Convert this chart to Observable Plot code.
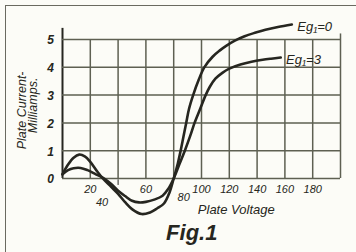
<!DOCTYPE html>
<html><head><meta charset="utf-8">
<script src="https://cdn.jsdelivr.net/npm/d3@7"></script>
<script src="https://cdn.jsdelivr.net/npm/@observablehq/plot@0.6"></script>
<style>
html,body{margin:0;padding:0;background:#fcfcf7;}
#wrap{position:relative;width:356px;height:252px;overflow:hidden;}
#wrap svg{display:block;background:transparent;}
#frame{position:absolute;left:5px;top:5px;right:-10px;bottom:-10px;border-left:1.5px solid #6a6a60;border-top:1.5px solid #6a6a60;pointer-events:none;}
</style></head><body><div id="wrap"><div id="frame"></div></div>
<script>
// Plate voltage (V) and plate current (mA) for the two grid bias curves
const voltsEg0 = [0, 4, 8, 12, 16, 20, 25, 29, 35, 40, 45, 50, 57, 63, 68, 73, 77, 80, 83, 85, 87, 89, 91, 94, 98, 102, 108, 113, 118, 124, 131, 139, 146, 155, 165];
const ampsEg0  = [0.15, 0.5, 0.75, 0.86, 0.8, 0.6, 0.25, 0.0, -0.3, -0.55, -0.85, -1.1, -1.28, -1.22, -1.08, -0.9, -0.5, 0.0, 0.55, 1.0, 1.5, 2.0, 2.5, 3.0, 3.55, 4.0, 4.38, 4.6, 4.78, 4.96, 5.12, 5.25, 5.35, 5.45, 5.54];
const voltsEg3 = [0, 4, 8, 13, 18, 24, 30, 35, 40, 45, 50, 55, 60, 66, 72, 76, 80, 84, 88, 92, 95, 99, 103, 106, 110, 115, 120, 128, 136, 144, 150, 157];
const ampsEg3  = [0.15, 0.3, 0.37, 0.38, 0.3, 0.15, 0.0, -0.2, -0.44, -0.63, -0.8, -0.86, -0.84, -0.76, -0.62, -0.38, 0.0, 0.5, 1.0, 1.55, 2.0, 2.5, 3.0, 3.3, 3.59, 3.8, 3.95, 4.1, 4.2, 4.27, 4.31, 4.35];
const seriesLabels = ["Eg\u2081=0", "Eg\u2081=3"];
const xGrid = [0, 20, 40, 60, 80, 100, 120, 140, 160, 180, 200];
const yGrid = [0, 1, 2, 3, 4, 5];
const xTickLabels = [20, 40, 60, 80, 100, 120, 140, 160, 180];
const yTickLabels = [0, 1, 2, 3, 4, 5];
const xTitle = "Plate Voltage";
const yTitle1 = "Plate Current-";
const yTitle2 = "Milliamps.";
const figLabel = "Fig.1";

const eg0 = voltsEg0.map((v, i) => ({v, a: ampsEg0[i]}));
const eg3 = voltsEg3.map((v, i) => ({v, a: ampsEg3[i]}));

const ink = "#262620";
const gridC = "#5e6052";
const font = "Liberation Sans, Arial, sans-serif";
const normalX = xTickLabels.filter(d => d !== 40 && d !== 80);

const chart = Plot.plot({
  width: 356, height: 252,
  marginTop: 0, marginRight: 0, marginBottom: 0, marginLeft: 0,
  x: {domain: [0, 200], range: [62, 340], axis: null},
  y: {domain: [0, 5], range: [178, 39], axis: null},
  style: {background: "transparent", fontFamily: font},
  marks: [
    Plot.ruleX(xGrid.filter(d => d > 0 && d < 200), {x: d => d, y1: 0, y2: 5, stroke: gridC, strokeWidth: 1.5}),
    Plot.ruleX([0], {x: d => d, y1: 0, y2: 5.4, stroke: ink, strokeWidth: 2}),
    Plot.ruleX([200], {x: d => d, y1: 0, y2: 5.2, stroke: gridC, strokeWidth: 1.5}),
    Plot.ruleY(yGrid, {y: d => d, x1: 0, x2: 200, stroke: gridC, strokeWidth: 1.5}),
    Plot.ruleX([40], {x: d => d, y1: -0.05, y2: -0.25, stroke: ink, strokeWidth: 1}),
    Plot.line(eg0, {x: "v", y: "a", curve: "catmull-rom", stroke: ink, strokeWidth: 2.6}),
    Plot.line(eg3, {x: "v", y: "a", curve: "catmull-rom", stroke: ink, strokeWidth: 2.6}),
    Plot.text([seriesLabels[0]], {x: 166, y: 5.47, text: d => d, textAnchor: "start", dx: 4, fontSize: 13, fontStyle: "italic", fill: ink}),
    Plot.text([seriesLabels[1]], {x: 158, y: 4.28, text: d => d, textAnchor: "start", dx: 4, fontSize: 13, fontStyle: "italic", fill: ink}),
    Plot.text(yTickLabels, {x: 0, y: d => d, text: d => String(d), dx: -12, dy: 1, textAnchor: "middle", fontSize: 12, fontStyle: "italic", fontWeight: "bold", fill: ink}),
    Plot.text(normalX, {x: d => d, y: 0, text: d => String(d), dy: 11, textAnchor: "middle", fontSize: 11, fontStyle: "italic", fill: ink}),
    Plot.text([40], {x: d => d, y: 0, text: d => String(d), dx: -16, dy: 24, textAnchor: "middle", fontSize: 11, fontStyle: "italic", fill: ink}),
    Plot.text([80], {x: d => d, y: 0, text: d => String(d), dx: 10, dy: 19, textAnchor: "middle", fontSize: 11, fontStyle: "italic", fill: ink}),
    Plot.text([xTitle], {x: 125, y: 0, text: d => d, dy: 31, textAnchor: "middle", fontSize: 13, fontStyle: "italic", fill: ink}),
    Plot.text([figLabel], {x: 93, y: 0, text: d => d, dy: 54, textAnchor: "middle", fontSize: 22, fontStyle: "italic", fontWeight: "bold", fill: ink}),
    Plot.text([yTitle1], {x: 0, y: 2.45, text: d => d, dx: -41, rotate: -90, textAnchor: "middle", fontSize: 12.5, fontStyle: "italic", fill: ink}),
    Plot.text([yTitle2], {x: 0, y: 2.63, text: d => d, dx: -30, rotate: -90, textAnchor: "middle", fontSize: 12.5, fontStyle: "italic", fill: ink})
  ]
});
document.getElementById("wrap").prepend(chart);
</script></body></html>
